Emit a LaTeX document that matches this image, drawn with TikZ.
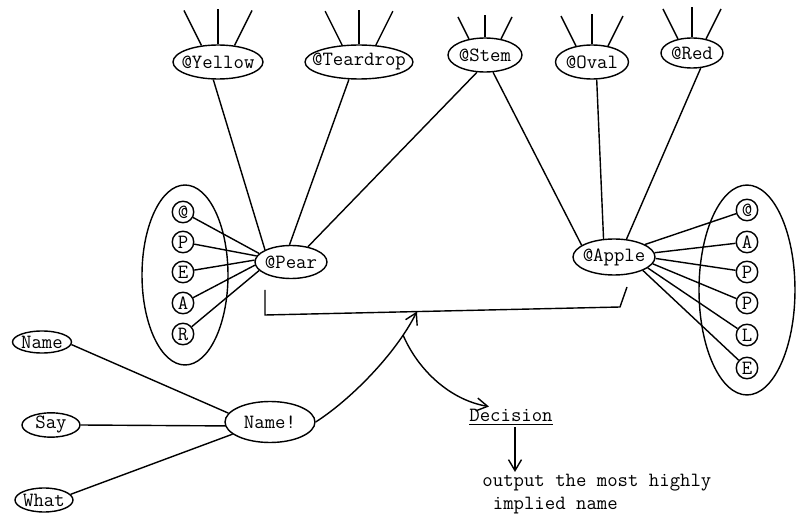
\documentclass[tikz,border=0pt]{standalone}
\usepackage{tikz}
\usetikzlibrary{arrows.meta,positioning,shapes.geometric,calc}
\tikzset{
    every picture/.style={
        font=\ttfamily\fontsize{11.5}{13}\selectfont,
        >={Straight Barb[length=2.2mm,width=2.6mm]},
        thick
    },
    % Node styles
    conceptNode/.style={ellipse,draw,inner xsep=-6pt,inner ysep=0pt,minimum height=0.68cm},
    letterNode/.style={circle,draw,inner sep=0pt,minimum size=0.43cm},
    letterGroup/.style={ellipse,draw,inner sep=0pt},
    textNode/.style={inner sep=1pt}
}

\begin{document}
\begin{tikzpicture}[x=0.02cm,y=-0.02cm]
    \useasboundingbox (0,0) rectangle (796,517);

    % Feature nodes
    \node[conceptNode,minimum width=1.8cm] (yellow) at (218,62) {@Yellow};
    \node[conceptNode,minimum width=2.16cm] (teardrop) at (359,62) {@Teardrop};
    \node[conceptNode,minimum width=1.48cm] (stem) at (485,55) {@Stem};
    \node[conceptNode,minimum width=1.46cm] (oval) at (592,62) {@Oval};
    \node[conceptNode,minimum width=1.24cm,minimum height=0.6cm] (red) at (692,53) {@Red};

    % Links going further up
    \foreach \n/\len in {yellow/35,teardrop/34,stem/22,oval/30,red/30}{
        \draw (\n.135) -- ++({-0.5*\len},-\len);
        \draw (\n.north) -- ++(0,-\len);
        \draw (\n.45) -- ++({0.5*\len},-\len);
    }

    % Fruit nodes
    \node[conceptNode,minimum width=1.44cm,minimum height=0.66cm] (pear) at (291,262) {@Pear};
    \node[conceptNode,minimum width=1.64cm,minimum height=0.72cm] (apple) at (614,257) {@Apple};

    \draw (yellow.255) -- (pear.155);
    \draw (teardrop.240) -- (pear.95);
    \draw (stem.245) -- (pear.42);
    \draw (stem.295) -- (apple.160);
    \draw (oval.285) -- (apple.120);
    \draw (red.300) -- (apple.55);

    % Spelling of pear
    \node[letterGroup,minimum width=1.72cm,minimum height=3.6cm] (pearGroup) at (185,275) {};
    \foreach \ch/\ypos [count=\i] in {@/212,P/242,E/272,A/303,R/334}
        \node[letterNode] (pl\i) at (183,\ypos) {\ch};
    \foreach \i/\ang in {1/165,2/170,3/177,4/185,5/195}
        \draw (pl\i) -- (pear.\ang);

    % Spelling of apple
    \node[letterGroup,minimum width=1.92cm,minimum height=4.2cm] (appleGroup) at (747,290) {};
    \foreach \ch/\ypos [count=\i] in {@/210,A/242,P/272,P/303,L/335,E/368}
        \node[letterNode] (al\i) at (747,\ypos) {\ch};
    \foreach \i/\ang in {1/22,2/6,3/-2,4/-10,5/-18,6/-25}
        \draw (apple.\ang) -- (al\i);

    % Bracket joining both fruits
    \coordinate (bracketL) at (265,290);
    \coordinate (bracketBL) at (265,315);
    \coordinate (bracketBR) at (620,307);
    \coordinate (bracketR) at (627,287);
    \coordinate (joinPt) at ($(bracketBL)!0.428!(bracketBR)$);
    \draw (bracketL) -- (bracketBL) -- (bracketBR) -- (bracketR);

    % Question nodes
    \node[conceptNode,minimum width=1.18cm,minimum height=0.44cm] (nameIn) at (42,342) {Name};
    \node[conceptNode,minimum width=1.16cm,minimum height=0.44cm] (say) at (51,425) {Say};
    \node[conceptNode,minimum width=1.16cm,minimum height=0.48cm] (what) at (44,500) {What};
    \node[conceptNode,minimum width=1.8cm,minimum height=0.82cm] (nameCmd) at (270,422) {Name!};

    \draw (nameIn.-5) -- (nameCmd.168);
    \draw (say.east) -- (nameCmd.185);
    \draw (what.12) -- (nameCmd.198);

    % Decision
    \node[textNode] (decision) at (511,417) {\underline{Decision}};
    \node[textNode,anchor=north west,align=left] (output) at (480,472) {output the most highly\\\phantom{o}implied name};

    \draw[->] (nameCmd.east) .. controls (350,400) and (395,355) .. (joinPt) coordinate[pos=0.82] (splitPt);
    \draw[->] (splitPt) .. controls (418,370) and (450,400) .. ($(decision.north west)!0.25!(decision.north east)$);
    \draw[->] ($(decision.south)+(4,0)$) -- ($(decision.south |- output.north)+(4,0)$);

\end{tikzpicture}
\end{document}
